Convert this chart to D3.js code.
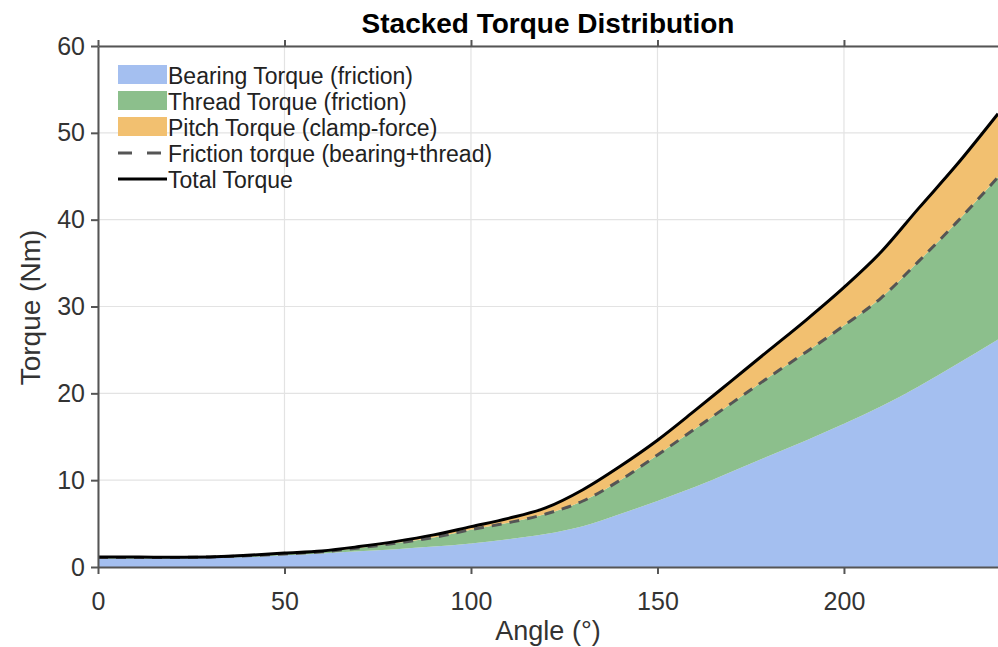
<!DOCTYPE html>
<html>
<head>
<meta charset="utf-8">
<script src="https://cdn.jsdelivr.net/npm/d3@7"></script>
<style>
  body { margin: 0; background: #fff; }
  svg { font-family: "Liberation Sans", Arial, sans-serif; }
</style>
</head>
<body>
<script>
// values
var angles  = [0, 10, 20, 30, 40, 50, 60, 70, 80, 90, 100, 110, 120, 130, 140, 150, 160, 170, 180, 190, 200, 210, 220, 230, 241.3];
var bearing = [0.95, 0.97, 1.0, 1.05, 1.15, 1.35, 1.55, 1.8, 2.05, 2.35, 2.7, 3.2, 3.8, 4.7, 6.1, 7.6, 9.2, 11.0, 12.8, 14.6, 16.5, 18.5, 20.8, 23.3, 26.2];
var thread  = [0.15, 0.13, 0.1, 0.1, 0.15, 0.15, 0.2, 0.4, 0.7, 1.05, 1.6, 1.9, 2.3, 2.9, 3.9, 5.3, 6.7, 7.9, 9.1, 10.2, 11.3, 12.5, 14.4, 16.3, 18.7];
var pitch   = [0.05, 0.05, 0.02, 0.0, 0.05, 0.1, 0.1, 0.15, 0.2, 0.3, 0.35, 0.5, 0.7, 1.3, 1.6, 1.7, 2.1, 2.6, 3.1, 3.7, 4.4, 5.3, 6.1, 6.6, 7.3];
var xTicks = [0, 50, 100, 150, 200];
var yTicks = [0, 10, 20, 30, 40, 50, 60];
var seriesNames = ["Bearing Torque (friction)", "Thread Torque (friction)", "Pitch Torque (clamp-force)"];
var colors = ["#a4bff0", "#8cbf8c", "#f2c070"];

var margin = {top: 46, right: 0, bottom: 80, left: 98},
    width = 998 - margin.left - margin.right,
    height = 647 - margin.top - margin.bottom;

var rows = angles.map(function(a, i) {
  return {angle: a, bearing: bearing[i], thread: thread[i], pitch: pitch[i]};
});

var stack = d3.stack().keys(["bearing", "thread", "pitch"]);
var layers = stack(rows);

var x = d3.scaleLinear().domain([0, 241.3]).range([0, width]);
var y = d3.scaleLinear().domain([0, 60]).range([height, 0]);

var svg = d3.select("body").append("svg")
    .attr("width", 998)
    .attr("height", 647);

svg.append("text")
    .attr("x", margin.left + width / 2)
    .attr("y", 33)
    .attr("text-anchor", "middle")
    .style("font-size", "28px")
    .style("font-weight", "bold")
    .text("Stacked Torque Distribution");

var g = svg.append("g")
    .attr("transform", "translate(" + margin.left + "," + margin.top + ")");

// grid
g.selectAll(".gx").data(xTicks).enter().append("line")
    .attr("x1", d => x(d)).attr("x2", d => x(d))
    .attr("y1", 0).attr("y2", height)
    .attr("stroke", "#e3e3e3").attr("stroke-width", 1.2);
g.selectAll(".gy").data(yTicks).enter().append("line")
    .attr("x1", 0).attr("x2", width)
    .attr("y1", d => y(d)).attr("y2", d => y(d))
    .attr("stroke", "#e3e3e3").attr("stroke-width", 1.2);

var area = d3.area()
    .curve(d3.curveMonotoneX)
    .x(d => x(d.data.angle))
    .y0(d => y(d[0]))
    .y1(d => y(d[1]));

g.selectAll(".layer").data(layers).enter().append("path")
    .attr("class", "layer")
    .attr("d", area)
    .attr("fill", (d, i) => colors[i]);

var topLine = d3.line()
    .curve(d3.curveMonotoneX)
    .x(d => x(d.data.angle))
    .y(d => y(d[1]));

// friction = bearing + thread
g.append("path")
    .datum(layers[1])
    .attr("d", topLine)
    .attr("fill", "none")
    .attr("stroke", "#555")
    .attr("stroke-width", 3)
    .attr("stroke-dasharray", "10,8");

// total
g.append("path")
    .datum(layers[2])
    .attr("d", topLine)
    .attr("fill", "none")
    .attr("stroke", "#000")
    .attr("stroke-width", 3);

// axes
var axisColor = "#555";
var xAxis = g.append("g")
    .attr("transform", "translate(0," + height + ")")
    .call(d3.axisBottom(x).tickValues(xTicks).tickSize(7).tickPadding(18).tickSizeOuter(0));
var xTop = g.append("g")
    .call(d3.axisTop(x).tickValues(xTicks).tickSize(6).tickFormat("").tickSizeOuter(0));
var yAxis = g.append("g")
    .call(d3.axisLeft(y).tickValues(yTicks).tickSize(7).tickPadding(6).tickSizeOuter(0));

[xAxis, xTop, yAxis].forEach(function(a) {
  a.select(".domain").attr("stroke", axisColor).attr("stroke-width", 2);
  a.selectAll(".tick line").attr("stroke", axisColor).attr("stroke-width", 2);
  a.selectAll("text").attr("fill", "#333").style("font-size", "25px")
    .style("font-family", "'Liberation Sans', Arial, sans-serif");
});

svg.append("text")
    .attr("x", margin.left + width / 2)
    .attr("y", 640)
    .attr("text-anchor", "middle")
    .attr("fill", "#333")
    .style("font-size", "27px")
    .text("Angle (°)");

svg.append("text")
    .attr("transform", "translate(40," + (margin.top + height / 2 + 1) + ") rotate(-90)")
    .attr("text-anchor", "middle")
    .attr("fill", "#333")
    .style("font-size", "28px")
    .text("Torque (Nm)");

// legend
var legend = g.append("g").attr("transform", "translate(20,19)");
var items = seriesNames.map((n, i) => ({name: n, type: "area", color: colors[i]}))
  .concat([{name: "Friction torque (bearing+thread)", type: "dash"},
           {name: "Total Torque", type: "solid"}]);

var li = legend.selectAll(".li").data(items).enter().append("g")
    .attr("transform", (d, i) => "translate(0," + (i * 26) + ")");

li.filter(d => d.type === "area").append("rect")
    .attr("x", 0).attr("y", 0).attr("width", 49).attr("height", 19)
    .attr("fill", d => d.color);
li.filter(d => d.type !== "area").append("line")
    .attr("x1", 0).attr("x2", 49).attr("y1", 10).attr("y2", 10)
    .attr("stroke", d => d.type === "dash" ? "#555" : "#000")
    .attr("stroke-width", 3)
    .attr("stroke-dasharray", d => d.type === "dash" ? "14,15" : null);
li.append("text")
    .attr("x", 50).attr("y", 19)
    .attr("fill", "#222")
    .style("font-size", "23px")
    .text(d => d.name);
</script>
</body>
</html>
